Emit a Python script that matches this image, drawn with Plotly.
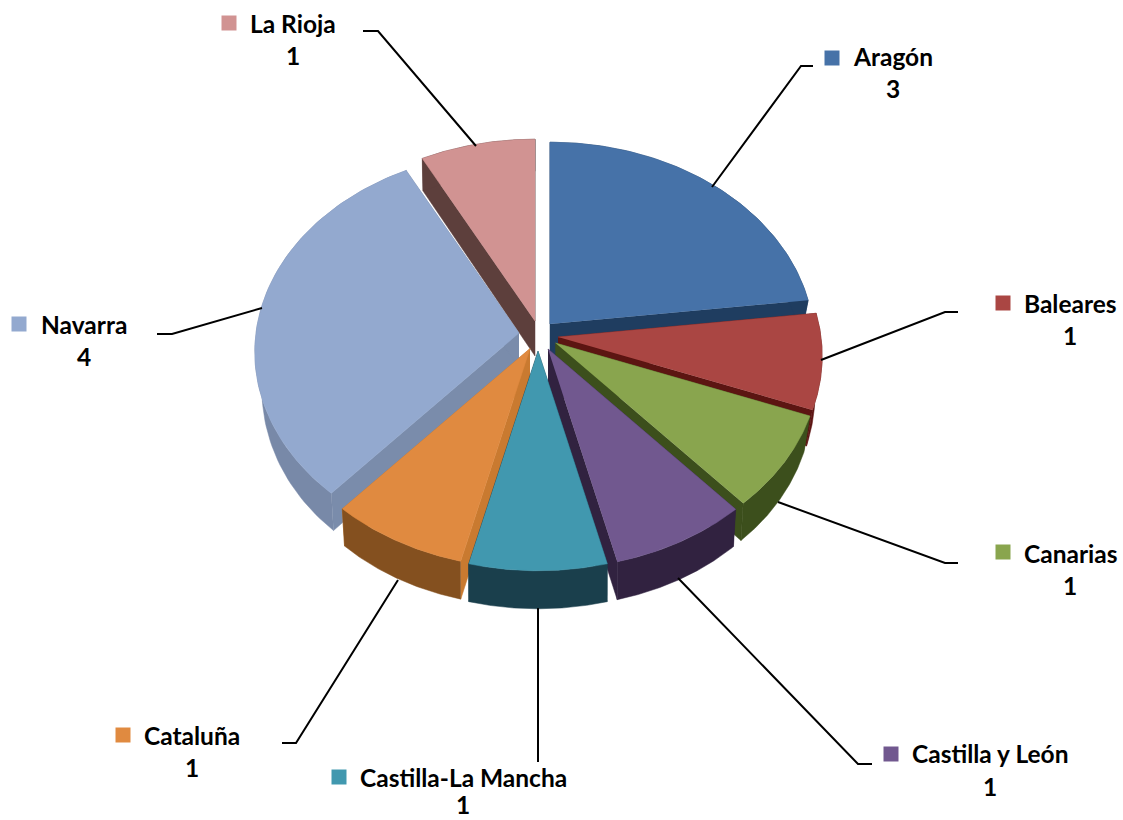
import numpy as np
import plotly.graph_objects as go

categories = ["Aragón", "Baleares", "Canarias", "Castilla y León", "Castilla-La Mancha", "Cataluña", "Navarra", "La Rioja"]
values = [3, 1, 1, 1, 1, 1, 4, 1]
top_colors = ["#4672a8", "#aa4643", "#89a54e", "#71588f", "#4198af", "#e08a40", "#93a9cf", "#d19392"]
wall_colors = ["#1f3d60", "#5c1512", "#3c4f1c", "#312240", "#1a3f4c", "#84501f", "#7889a8", "#5d3f3c"]
radial_colors = ["#1f3d60", "#5c1512", "#3c4f1c", "#312240", "#1a3f4c", "#c97a30", "#7a8cab", "#5d3f3c"]
apex_x = [550, 558, 555.5, 548, 538, 530, 519, 535]
apex_y = [324, 337, 343, 349, 351, 348.5, 333, 321]
draw_order = [7, 0, 6, 1, 2, 5, 3, 4]

key_x = [832, 1003, 1003, 891, 339, 123, 19, 229]
key_y = [58, 303, 552, 754, 777, 735, 324, 23]
name_x = [893, 1070, 1070, 990, 463, 192, 84, 293]
name_y = [56.5, 303.5, 553.5, 753.5, 777.5, 735.5, 324.5, 23.5]
value_y = [88, 335, 585, 786, 804, 767, 356, 55]
leader_x = [[813, 801, 712], [958, 945, 821], [958, 945, 778], [872, 858, 678], [538, 538, 538], [282, 296, 398], [157, 172, 262], [363, 378, 476]]
leader_y = [[66, 66, 187], [312, 312, 360], [563, 563, 502], [764, 764, 578], [762, 700, 608], [743, 743, 580], [334, 334, 308], [31, 31, 146]]

RX, RY, PERSP = 263, 199, 0.0946
DEPTH, DEPTH_VAR, SHRINK = 35, 3, 0.027


def rim(t, cx, cy):
    den = 1 + PERSP * np.cos(t)
    return cx + RX * np.sin(t) / den, cy - RY * np.cos(t) / den


def lower(x, y, t, cx):
    return cx + (x - cx) * (1 - SHRINK * np.sin(t) ** 2), y + DEPTH - DEPTH_VAR * np.cos(t)


def poly(fig, xs, ys, color, name):
    fig.add_trace(go.Scatter(x=list(xs), y=list(ys), mode="lines", fill="toself", fillcolor=color,
                             line=dict(color=color, width=0.5), hoverinfo="skip", showlegend=False, name=name))


fig = go.Figure()
edges = np.cumsum([0] + values) / sum(values) * 2 * np.pi

for i in draw_order:
    t = np.linspace(edges[i], edges[i + 1], 80)
    cx, cy = apex_x[i], apex_y[i]
    px, py = rim(t, cx, cy)
    bx, by = lower(px, py, t, cx)
    low_cy = cy + DEPTH
    for j in (0, -1):
        poly(fig, [cx, px[j], bx[j], cx], [cy, py[j], by[j], low_cy], radial_colors[i], categories[i])
    poly(fig, np.r_[px, bx[::-1]], np.r_[py, by[::-1]], wall_colors[i], categories[i])
    poly(fig, np.r_[cx, px], np.r_[cy, py], top_colors[i], categories[i])

for i, c in enumerate(categories):
    fig.add_trace(go.Scatter(x=leader_x[i], y=leader_y[i], mode="lines", line=dict(color="black", width=2),
                             hoverinfo="skip", showlegend=False))
    fig.add_trace(go.Scatter(x=[key_x[i]], y=[key_y[i]], mode="markers",
                             marker=dict(symbol="square", size=15, color=top_colors[i], line=dict(width=0)),
                             hoverinfo="skip", showlegend=False))
    font = dict(family="Lato", size=24.5, color="black", weight="bold")
    fig.add_annotation(x=name_x[i], y=name_y[i], text=f"<b>{c}</b>", showarrow=False, font=font, xanchor="center", yanchor="middle")
    fig.add_annotation(x=name_x[i], y=value_y[i], text=f"<b>{values[i]}</b>", showarrow=False, font=font, xanchor="center", yanchor="middle")

fig.update_layout(width=1123, height=820, autosize=False, margin=dict(l=0, r=0, t=0, b=0),
                  paper_bgcolor="white", plot_bgcolor="white", showlegend=False,
                  xaxis=dict(range=[0, 1123], visible=False, fixedrange=True),
                  yaxis=dict(range=[820, 0], visible=False, fixedrange=True))
fig.write_html("out.html", config={"displayModeBar": False},
               post_script="document.body.style.margin='0';document.body.style.overflow='hidden';")
